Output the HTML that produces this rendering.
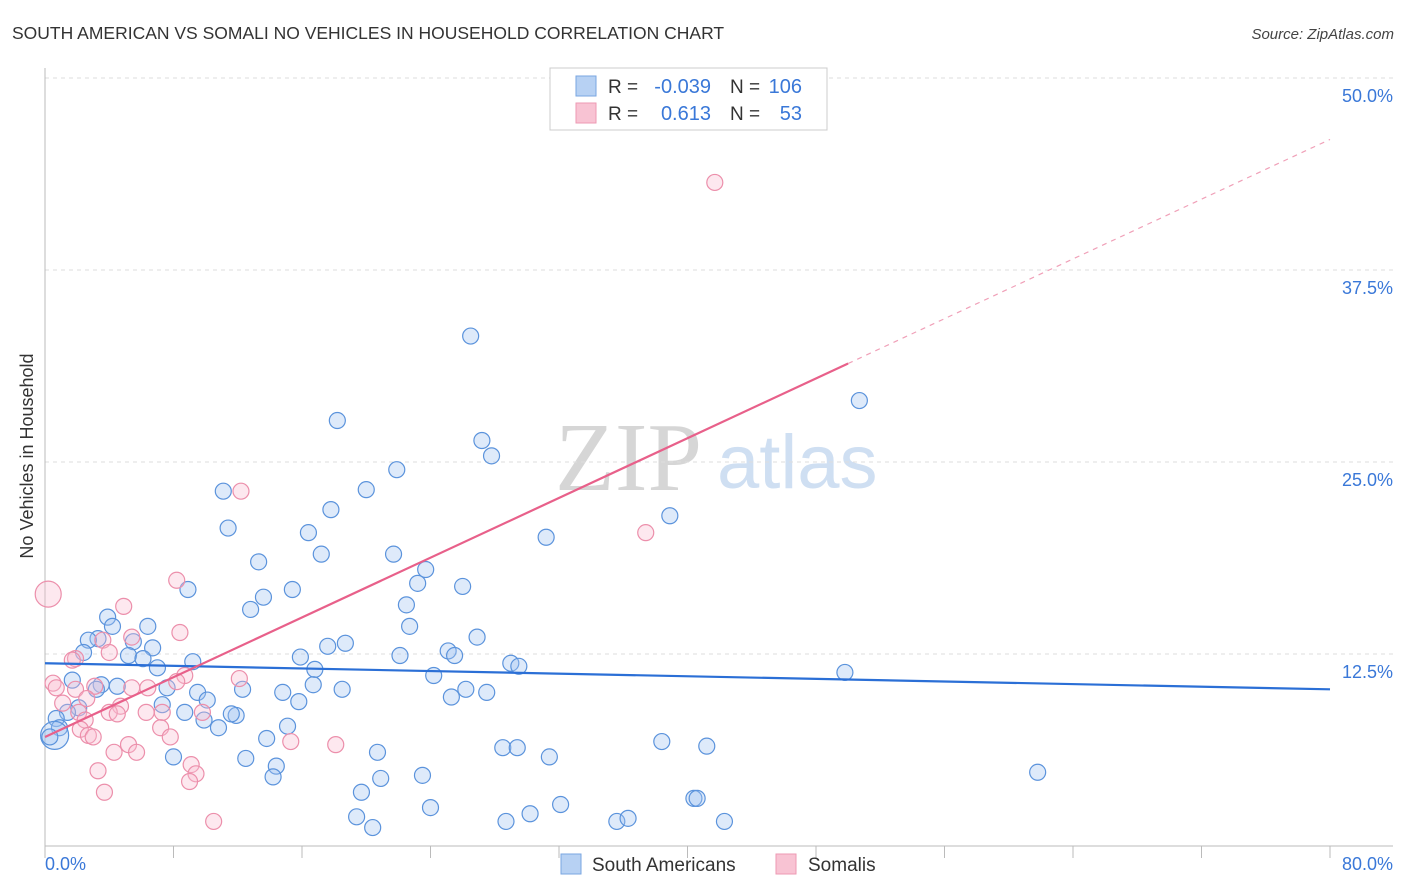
<!DOCTYPE html>
<html><head><meta charset="utf-8"><style>
body{margin:0;background:#fff;font-family:"Liberation Sans",sans-serif}
svg{display:block}
</style></head><body>
<svg id="chart" width="1406" height="892" xmlns="http://www.w3.org/2000/svg">
<text x="12" y="39" font-size="17.5" fill="#333">SOUTH AMERICAN VS SOMALI NO VEHICLES IN HOUSEHOLD CORRELATION CHART</text>
<text x="1394" y="39" font-size="15" fill="#444" text-anchor="end" font-style="italic">Source: ZipAtlas.com</text>
<text x="555" y="490" font-size="98" fill="#d6d6d6" font-family="Liberation Serif">ZIP</text>
<text x="717" y="488" font-size="76" fill="#cfdff2">atlas</text>
<text transform="translate(33,456) rotate(-90)" font-size="18" fill="#333" text-anchor="middle">No Vehicles in Household</text>
<g id="grid"></g><g id="axes"></g><g id="marks"></g>
<g>
<rect x="550" y="68" width="277" height="62" fill="#fff" stroke="#ccc"/>
<rect x="576" y="76" width="20" height="20" fill="#b7d1f3" stroke="#7aa6e0"/>
<rect x="576" y="103" width="20" height="20" fill="#f8c3d3" stroke="#ee9ab3"/>
<text x="608" y="93" font-size="19" fill="#333">R =</text>
<text x="711" y="93" font-size="20" fill="#3a78d8" text-anchor="end">-0.039</text>
<text x="730" y="93" font-size="19" fill="#333">N =</text>
<text x="802" y="93" font-size="20" fill="#3a78d8" text-anchor="end">106</text>
<text x="608" y="120" font-size="19" fill="#333">R =</text>
<text x="711" y="120" font-size="20" fill="#3a78d8" text-anchor="end">0.613</text>
<text x="730" y="120" font-size="19" fill="#333">N =</text>
<text x="802" y="120" font-size="20" fill="#3a78d8" text-anchor="end">53</text>
</g>
<g>
<rect x="561" y="854" width="20" height="20" fill="#b7d1f3" stroke="#7aa6e0"/>
<text x="592" y="871" font-size="19" fill="#333">South Americans</text>
<rect x="776" y="854" width="20" height="20" fill="#f8c3d3" stroke="#ee9ab3"/>
<text x="808" y="871" font-size="19" fill="#333">Somalis</text>
</g>
</svg>
<script>
const blueX=[26.5,18.2,50.7,27.2,27.8,21.9,20.0,11.1,17.8,38.9,11.4,16.4,31.2,17.2,13.3,21.7,23.7,23.2,26.0,8.9,15.4,13.6,22.5,12.8,3.9,6.4,4.2,22.7,3.3,2.7,5.5,6.7,18.7,17.6,26.9,2.4,5.2,6.1,15.9,22.1,25.1,25.5,29.0,29.5,9.2,7.0,16.8,49.8,24.2,1.7,3.5,4.5,7.6,12.3,16.7,18.5,26.2,27.5,9.5,14.8,25.3,10.1,15.8,3.2,2.1,1.4,0.7,8.7,11.9,11.6,7.3,9.9,10.8,15.1,0.9,0.6,0.3,13.8,38.4,41.2,28.5,29.4,20.7,12.5,31.4,14.4,14.2,20.9,23.5,61.8,8.0,19.7,40.4,40.6,32.1,24.0,30.2,19.4,20.4,28.7,35.6,36.3,42.3];
const blueY=[33.2,27.7,29.0,26.4,25.4,24.5,23.2,23.1,21.9,21.5,20.7,20.4,20.1,19.0,18.5,19.0,18.0,17.1,16.9,16.7,16.7,16.2,15.7,15.4,14.9,14.3,14.3,14.3,13.5,13.4,13.3,12.9,13.2,13.0,13.6,12.6,12.4,12.2,12.3,12.4,12.7,12.4,11.9,11.7,12.0,11.6,11.5,11.3,11.1,10.8,10.5,10.4,10.3,10.2,10.5,10.2,10.2,10.0,10.0,10.0,9.7,9.5,9.4,10.2,9.0,8.7,8.3,8.7,8.5,8.6,9.2,8.2,7.7,7.8,7.7,7.2,7.1,7.0,6.8,6.5,6.4,6.4,6.1,5.7,5.8,5.2,4.5,4.4,4.6,4.8,5.8,3.5,3.1,3.1,2.7,2.5,2.1,1.9,1.2,1.6,1.6,1.8,1.6];
const pinkX=[41.7,12.2,37.4,0.2,8.2,4.9,8.4,1.9,1.7,5.4,3.6,4.0,8.7,12.1,0.5,0.7,1.9,3.1,5.4,6.4,8.2,2.6,1.1,2.1,4.7,4.0,4.5,6.3,7.3,9.8,2.5,2.2,2.7,3.0,7.2,7.8,5.2,18.1,15.3,5.7,4.3,9.1,9.4,3.3,9.0,3.7,10.5];
const pinkY=[43.2,23.1,20.4,16.4,17.3,15.6,13.9,12.2,12.1,13.6,13.4,12.6,11.1,10.9,10.6,10.3,10.2,10.4,10.3,10.3,10.7,9.6,9.3,8.7,9.1,8.7,8.6,8.7,8.7,8.7,8.2,7.6,7.2,7.1,7.7,7.1,6.6,6.6,6.8,6.1,6.1,5.3,4.7,4.9,4.2,3.5,1.6];
const blueBig=[75], pinkBig=[3];
const blueTrend=[11.9,10.2];
const pinkTrend=[7.1,46.0];
const pinkSolidEnd=50.0;
const yTicks=[12.5,25.0,37.5,50.0];
const xTickVals=[0,8,16,24,32,40,48,56,64,72,80];

const NS="http://www.w3.org/2000/svg";
const X=v=>45+v*(1330-45)/80;
const Y=v=>846-v*15.36;
function mk(tag,attrs,parent){const e=document.createElementNS(NS,tag);for(const k in attrs)e.setAttribute(k,attrs[k]);parent.appendChild(e);return e;}
const grid=document.getElementById('grid'),axes=document.getElementById('axes'),marks=document.getElementById('marks');
yTicks.forEach(t=>{
 const l=mk('line',{x1:45,x2:1393,y1:Y(t),y2:Y(t),stroke:'#ddd','stroke-dasharray':'4,4'},grid);
 
 
 const tx=mk('text',{x:1393,y:Y(t)+24,'font-size':18,fill:'#3a78d8','text-anchor':'end'},axes);
 tx.textContent=t.toFixed(1)+'%';
 
 
});
const topg=mk('line',{x1:45,x2:1393,y1:78,y2:78,stroke:'#ddd','stroke-dasharray':'4,4'},grid);


const ya=mk('line',{x1:45,x2:45,y1:68,y2:846,stroke:'#bbb'},axes);


const xa=mk('line',{x1:45,x2:1393,y1:846,y2:846,stroke:'#bbb'},axes);


xTickVals.forEach(t=>{
 const l=mk('line',{x1:X(t),x2:X(t),y1:846,y2:858,stroke:'#bbb'},axes);
 
 
});
const xl0=mk('text',{x:45,y:870,'font-size':18,fill:'#3a78d8'},axes);xl0.textContent='0.0%';


const xl1=mk('text',{x:1393,y:870,'font-size':18,fill:'#3a78d8','text-anchor':'end'},axes);xl1.textContent='80.0%';



blueX.forEach((x,i)=>{
 const c=mk('circle',{cx:X(x),cy:Y(blueY[i]),r:blueBig.includes(i)?14:8,fill:'rgba(160,195,240,0.35)',stroke:'#5b93dc','stroke-width':1.2},marks);
 
 
});
pinkX.forEach((x,i)=>{
 const c=mk('circle',{cx:X(x),cy:Y(pinkY[i]),r:pinkBig.includes(i)?13:8,fill:'rgba(248,190,208,0.35)',stroke:'#ec8fab','stroke-width':1.2},marks);
 
 
});
const bl=mk('line',{x1:X(0),y1:Y(blueTrend[0]),x2:X(80),y2:Y(blueTrend[1]),stroke:'#2b6fd6','stroke-width':2.2},marks);


const py=v=>pinkTrend[0]+(pinkTrend[1]-pinkTrend[0])*v/80;
const pl=mk('line',{x1:X(0),y1:Y(py(0)),x2:X(pinkSolidEnd),y2:Y(py(pinkSolidEnd)),stroke:'#e8608a','stroke-width':2.2},marks);


const pd=mk('line',{x1:X(pinkSolidEnd),y1:Y(py(pinkSolidEnd)),x2:X(80),y2:Y(py(80)),stroke:'#f0a0b8','stroke-width':1.2,'stroke-dasharray':'5,5'},marks);


</script>
</body></html>
